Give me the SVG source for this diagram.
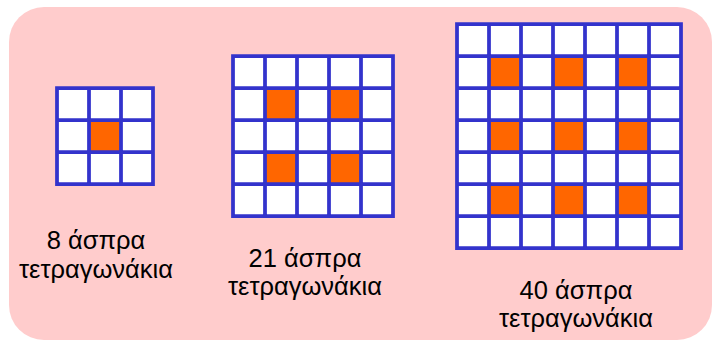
<svg xmlns="http://www.w3.org/2000/svg" width="712" height="340" viewBox="0 0 712 340">
<style>
.bg{fill:#FFCCCC}
.cells{fill:#FFFFFF}
.hole{fill:#FF6600}
.grid{fill:none;stroke:#3333CC;stroke-width:3.75;stroke-linecap:square}
.lbl{font-family:"Liberation Sans",Arial,sans-serif;font-size:25.5px;fill:#000;text-anchor:middle}
</style>
<rect class="bg" x="9" y="7" width="703" height="333" rx="35" ry="35"/>
<g id="grid3">
<rect class="cells" x="57" y="88" width="96" height="96"/>
<rect class="hole" x="89" y="120" width="32" height="32"/>
<path class="grid" d="M57 88V184M89 88V184M121 88V184M153 88V184M57 88H153M57 120H153M57 152H153M57 184H153"/>
</g>
<g id="grid5">
<rect class="cells" x="233" y="56" width="160" height="160"/>
<rect class="hole" x="265" y="88" width="32" height="32"/>
<rect class="hole" x="329" y="88" width="32" height="32"/>
<rect class="hole" x="265" y="152" width="32" height="32"/>
<rect class="hole" x="329" y="152" width="32" height="32"/>
<path class="grid" d="M233 56V216M265 56V216M297 56V216M329 56V216M361 56V216M393 56V216M233 56H393M233 88H393M233 120H393M233 152H393M233 184H393M233 216H393"/>
</g>
<g id="grid7">
<rect class="cells" x="457" y="24" width="224" height="224"/>
<rect class="hole" x="489" y="56" width="32" height="32"/>
<rect class="hole" x="553" y="56" width="32" height="32"/>
<rect class="hole" x="617" y="56" width="32" height="32"/>
<rect class="hole" x="489" y="120" width="32" height="32"/>
<rect class="hole" x="553" y="120" width="32" height="32"/>
<rect class="hole" x="617" y="120" width="32" height="32"/>
<rect class="hole" x="489" y="184" width="32" height="32"/>
<rect class="hole" x="553" y="184" width="32" height="32"/>
<rect class="hole" x="617" y="184" width="32" height="32"/>
<path class="grid" d="M457 24V248M489 24V248M521 24V248M553 24V248M585 24V248M617 24V248M649 24V248M681 24V248M457 24H681M457 56H681M457 88H681M457 120H681M457 152H681M457 184H681M457 216H681M457 248H681"/>
</g>
<g id="label3">
<text class="lbl" x="96" y="249">8 άσπρα</text>
<text class="lbl" x="96" y="278">τετραγωνάκια</text>
</g>
<g id="label5">
<text class="lbl" x="305" y="267">21 άσπρα</text>
<text class="lbl" x="305" y="295">τετραγωνάκια</text>
</g>
<g id="label7">
<text class="lbl" x="576" y="299">40 άσπρα</text>
<text class="lbl" x="576" y="327">τετραγωνάκια</text>
</g>
<g id="connectors"/>
</svg>
